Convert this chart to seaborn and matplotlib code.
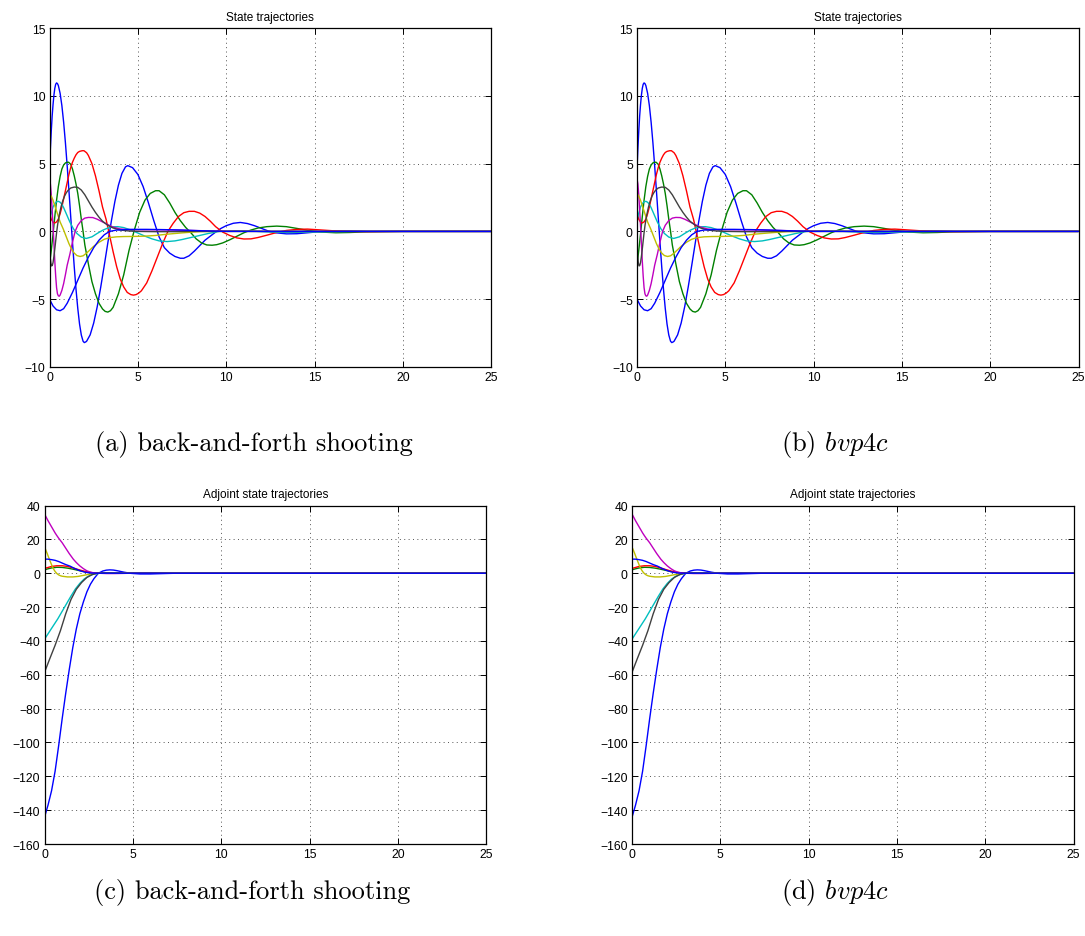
import numpy as np
import pandas as pd
import matplotlib
matplotlib.use("Agg")
import matplotlib.pyplot as plt
import seaborn as sns

# ---------------- data ----------------
# State trajectories (identical in panels a and b)
s1_t = [0, 0.05, 0.1, 0.15, 0.2, 0.25, 0.3, 0.35, 0.4, 0.45, 0.5, 0.6, 0.7, 0.8, 0.9, 1.0, 1.1, 1.2, 1.3, 1.4,
        1.5, 1.6, 1.7, 1.8, 1.9, 1.97, 2.05, 2.1, 2.3, 2.5, 2.7, 2.9, 3.1, 3.3, 3.5, 3.7, 3.9, 4.1, 4.3, 4.43,
        4.7, 5.0, 5.3, 5.6, 5.9, 6.2, 6.5, 6.8, 7.1, 7.4, 7.6, 7.9, 8.2, 8.5, 8.8, 9.1, 9.4, 9.7, 10.0, 10.4,
        10.8, 11.2, 11.6, 12.0, 12.4, 12.8, 13.4, 14.0, 14.6, 15.2, 16, 17, 18, 20, 25]
s1_v = [4.6, 6.1, 7.4, 8.5, 9.35, 10.05, 10.55, 10.85, 10.95, 10.9, 10.76, 10.19, 9.28, 8.05, 6.55, 4.84, 3.0,
        1.1, -0.8, -2.61, -4.27, -5.68, -6.83, -7.64, -8.1, -8.2, -8.15, -8.1, -7.63, -6.76, -5.56, -4.1, -2.5,
        -0.85, 0.76, 2.21, 3.41, 4.28, 4.76, 4.85, 4.7, 4.2, 3.3, 2.1, 0.8, -0.4, -1.2, -1.6, -1.85, -1.98,
        -1.98, -1.8, -1.45, -1.05, -0.65, -0.35, -0.05, 0.22, 0.42, 0.6, 0.66, 0.58, 0.42, 0.22, 0.02, -0.1,
        -0.18, -0.17, -0.1, -0.03, 0.02, 0.03, 0.0, 0.0, 0.0]
s2_t = [0, 0.1, 0.2, 0.3, 0.4, 0.5, 0.6, 0.7, 0.8, 0.9, 1.0, 1.08, 1.2, 1.3, 1.4, 1.5, 1.6, 1.7, 1.8, 1.9, 2.0,
        2.2, 2.4, 2.6, 2.8, 3.0, 3.15, 3.3, 3.45, 3.6, 3.9, 4.2, 4.5, 4.8, 5.1, 5.4, 5.7, 6.0, 6.2, 6.5, 6.8,
        7.1, 7.4, 7.7, 8.0, 8.3, 8.6, 8.9, 9.2, 9.46, 9.8, 10.2, 10.6, 11.0, 11.4, 11.8, 12.3, 12.86, 13.4,
        14.0, 14.6, 15.4, 16.2, 17, 18, 20, 25]
s2_v = [-2.5, -1.4, -0.2, 1.1, 2.3, 3.3, 4.05, 4.6, 4.9, 5.05, 5.1, 5.1, 4.95, 4.6, 4.1, 3.5, 2.8, 1.9, 0.9, 0.0,
        -1.0, -2.4, -3.7, -4.6, -5.3, -5.72, -5.9, -5.95, -5.85, -5.6, -4.6, -3.2, -1.4, 0.1, 1.4, 2.3, 2.8,
        3.0, 3.0, 2.7, 2.1, 1.4, 0.8, 0.3, -0.1, -0.55, -0.85, -1.0, -1.02, -0.98, -0.85, -0.62, -0.36, -0.1,
        0.1, 0.25, 0.35, 0.39, 0.35, 0.22, 0.08, -0.05, -0.1, -0.08, -0.03, 0.0, 0.0]
s3_t = [0, 0.1, 0.2, 0.3, 0.4, 0.5, 0.6, 0.7, 0.8, 0.9, 1.0, 1.1, 1.2, 1.3, 1.4, 1.5, 1.6, 1.7, 1.85, 1.95, 2.1,
        2.2, 2.4, 2.6, 2.8, 3.0, 3.2, 3.4, 3.6, 3.8, 4.0, 4.2, 4.4, 4.6, 4.75, 4.9, 5.05, 5.2, 5.5, 5.8, 6.1,
        6.4, 6.7, 7.0, 7.3, 7.6, 7.9, 8.2, 8.5, 8.8, 9.1, 9.4, 9.8, 10.2, 10.6, 11.0, 11.4, 11.8, 12.3, 12.8,
        13.4, 14.0, 14.6, 15.2, 16, 17, 18, 20, 25]
s3_v = [1.4, 0.9, 0.68, 0.62, 0.7, 0.9, 1.3, 1.8, 2.4, 3.0, 3.6, 4.2, 4.7, 5.1, 5.4, 5.65, 5.82, 5.9, 5.95, 5.95,
        5.8, 5.6, 5.0, 4.1, 3.0, 1.8, 0.9, -0.3, -1.5, -2.6, -3.5, -4.1, -4.5, -4.66, -4.7, -4.66, -4.55,
        -4.38, -3.8, -2.9, -1.9, -0.9, 0.0, 0.6, 1.1, 1.38, 1.48, 1.48, 1.35, 1.1, 0.75, 0.35, -0.05, -0.3,
        -0.48, -0.56, -0.55, -0.45, -0.28, -0.1, 0.07, 0.15, 0.17, 0.12, 0.05, 0.0, -0.02, 0.0, 0.0]
s4_t = [0, 0.05, 0.1, 0.2, 0.3, 0.4, 0.5, 0.6, 0.7, 0.8, 0.9, 1.0, 1.15, 1.35, 1.55, 1.8, 2.08, 2.4, 2.7, 3.0,
        3.3, 3.6, 3.87, 4.2, 4.6, 5.0, 5.4, 5.8, 6.2, 6.65, 7.1, 7.5, 8.0, 8.5, 9.0, 9.6, 10.5, 11.5, 12.5,
        13.5, 15, 17, 25]
s4_v = [0.8, 1.1, 1.35, 1.8, 2.05, 2.18, 2.22, 2.15, 2.0, 1.75, 1.45, 1.15, 0.7, 0.2, -0.15, -0.42, -0.52, -0.4,
        -0.15, 0.08, 0.25, 0.34, 0.35, 0.28, 0.1, -0.12, -0.35, -0.55, -0.7, -0.75, -0.7, -0.6, -0.45, -0.3,
        -0.15, 0.0, 0.05, 0.02, -0.05, -0.08, -0.05, 0.0, 0.0]
s5_t = [0, 0.05, 0.1, 0.15, 0.2, 0.25, 0.3, 0.35, 0.4, 0.45, 0.5, 0.55, 0.6, 0.7, 0.8, 0.9, 1.0, 1.15, 1.3, 1.45,
        1.6, 1.8, 2.0, 2.2, 2.45, 2.7, 3.0, 3.3, 3.6, 4.0, 4.5, 5.0, 6.0, 7.0, 8.0, 9.0, 10, 12, 25]
s5_v = [3.87, 3.5, 2.7, 1.6, 0.4, -0.9, -2.2, -3.3, -4.15, -4.6, -4.75, -4.78, -4.7, -4.35, -3.85, -3.2, -2.5,
        -1.7, -0.8, 0.0, 0.45, 0.8, 0.98, 1.03, 1.02, 0.9, 0.7, 0.5, 0.32, 0.18, 0.12, 0.12, 0.12, 0.1, 0.07,
        0.04, 0.02, 0.0, 0.0]
s6_t = [0, 0.05, 0.1, 0.2, 0.3, 0.45, 0.6, 0.78, 0.95, 1.1, 1.25, 1.4, 1.55, 1.73, 1.9, 2.1, 2.3, 2.5, 2.8, 3.1,
        3.4, 3.8, 4.2, 4.8, 5.4, 6.0, 6.7, 7.4, 8.0, 8.5, 9.5, 11, 25]
s6_v = [2.75, 2.7, 2.6, 2.3, 1.9, 1.3, 0.7, 0.17, -0.4, -0.9, -1.31, -1.6, -1.78, -1.85, -1.8, -1.6, -1.35, -1.1,
        -0.8, -0.58, -0.46, -0.4, -0.38, -0.37, -0.35, -0.3, -0.2, -0.12, -0.06, -0.02, 0.0, 0.0, 0.0]
s7_t = [0, 0.04, 0.08, 0.12, 0.16, 0.2, 0.25, 0.3, 0.35, 0.4, 0.46, 0.55, 0.65, 0.75, 0.85, 0.95, 1.05, 1.2, 1.4,
        1.6, 1.8, 2.0, 2.2, 2.4, 2.6, 2.8, 3.0, 3.3, 3.6, 4.0, 4.5, 5.0, 6, 7, 8, 10, 25]
s7_v = [-1.2, -1.9, -2.35, -2.55, -2.5, -2.3, -1.85, -1.3, -0.7, -0.1, 0.5, 1.2, 1.8, 2.25, 2.6, 2.85, 3.03, 3.2,
        3.27, 3.25, 3.05, 2.7, 2.25, 1.8, 1.4, 1.05, 0.75, 0.45, 0.25, 0.1, 0.03, 0.0, -0.02, -0.02, 0.0, 0.0,
        0.0]
s8_t = [0, 0.2, 0.4, 0.6, 0.8, 1.0, 1.3, 1.6, 1.9, 2.2, 2.5, 2.8, 3.1, 3.4, 3.8, 4.5, 5.5, 6.5, 7.5, 8.5, 10, 12, 25]
s8_v = [-5.0, -5.5, -5.78, -5.85, -5.7, -5.3, -4.5, -3.6, -2.7, -1.9, -1.2, -0.65, -0.25, 0.0, 0.1, 0.15, 0.15,
        0.13, 0.1, 0.05, 0.0, 0.0, 0.0]

# Adjoint state trajectories (identical in panels c and d)
a1_t = [0, 0.2, 0.4, 0.6, 0.8, 1.0, 1.2, 1.4, 1.6, 1.8, 2.0, 2.2, 2.4, 2.6, 2.8, 3.05, 3.3, 3.5, 3.7, 3.9, 4.1,
        4.5, 4.9, 5.4, 6.0, 6.8, 7.5, 9, 25]
a1_v = [-144.2, -137, -128.5, -117, -102, -86, -71, -57, -44, -33, -24, -17, -11, -6.5, -3.2, 0.0, 1.3, 1.8, 1.97,
        1.85, 1.5, 0.6, -0.1, -0.45, -0.45, -0.2, 0.0, 0.0, 0.0]
a2_t = [0, 0.2, 0.4, 0.7, 1.0, 1.3, 1.6, 1.9, 2.2, 2.5, 2.8, 3.2, 4, 25]
a2_v = [2.0, 2.6, 3.1, 3.5, 3.4, 3.0, 2.4, 1.7, 1.0, 0.45, 0.15, 0.0, 0.0, 0.0]
a3_t = [0, 0.2, 0.4, 0.7, 1.0, 1.3, 1.6, 1.9, 2.2, 2.5, 2.8, 3.2, 4, 25]
a3_v = [2.8, 3.4, 4.0, 4.4, 4.4, 4.0, 3.2, 2.2, 1.3, 0.6, 0.2, 0.0, 0.0, 0.0]
a4_t = [0, 0.25, 0.5, 0.75, 1.0, 1.25, 1.5, 1.75, 2.0, 2.25, 2.5, 2.8, 3.1, 3.5, 4, 5, 25]
a4_v = [-39, -35, -31, -27, -22.5, -18, -13.5, -9.3, -6, -3.4, -1.7, -0.5, 0.0, 0.2, 0.2, 0.0, 0.0]
a5_t = [0, 0.1, 0.2, 0.3, 0.4, 0.5, 0.6, 0.7, 0.8, 1.0, 1.2, 1.4, 1.63, 1.8, 2.0, 2.2, 2.4, 2.6, 2.8, 3.0, 3.5,
        4, 5, 25]
a5_v = [35, 33, 31, 29.2, 27.4, 25.6, 23.8, 22.2, 20.7, 18, 14.8, 11.6, 8.3, 6.3, 4.3, 2.7, 1.4, 0.6, 0.15, 0.0,
        -0.2, -0.2, 0.0, 0.0]
a6_t = [0, 0.05, 0.1, 0.15, 0.2, 0.3, 0.4, 0.5, 0.6, 0.7, 0.8, 0.9, 1.0, 1.3, 1.6, 1.9, 2.2, 2.5, 2.8, 3.2, 4, 25]
a6_v = [15.3, 14.3, 13, 11.7, 10.3, 7.6, 5.0, 2.7, 1.0, -0.2, -1.0, -1.5, -1.8, -2.2, -2.2, -1.9, -1.3, -0.7,
        -0.3, 0.0, 0.0, 0.0]
a7_t = [0, 0.3, 0.6, 0.9, 1.2, 1.5, 1.8, 2.1, 2.4, 2.7, 3.0, 3.4, 4, 5, 25]
a7_v = [-58.6, -50.5, -42.6, -34, -24, -15.5, -9.5, -5.5, -2.5, -0.8, 0.0, 0.2, 0.1, 0.0, 0.0]
a8_t = [0, 0.2, 0.4, 0.6, 0.8, 1.0, 1.2, 1.44, 1.7, 2.0, 2.3, 2.6, 3.0, 4, 25]
a8_v = [8.3, 8.3, 8.0, 7.6, 6.9, 6.0, 5.1, 4.2, 2.8, 1.5, 0.6, 0.1, 0.0, 0.0, 0.0]

state_ticks = [-10, -5, 0, 5, 10, 15]
adjoint_ticks = [-160, -140, -120, -100, -80, -60, -40, -20, 0, 20, 40]
time_ticks = [0, 5, 10, 15, 20, 25]

titles = ["State trajectories", "State trajectories",
          "Adjoint state trajectories", "Adjoint state trajectories"]
captions = ["(a) back-and-forth shooting", r"(b) $bvp4c$",
            "(c) back-and-forth shooting", r"(d) $bvp4c$"]

# MATLAB classic color order (8th line wraps back to blue)
curve_names = ["x1", "x2", "x3", "x4", "x5", "x6", "x7", "x8"]
matlab_colors = ["#0000ff", "#008000", "#ff0000", "#00bfbf", "#bf00bf", "#bfbf00", "#404040", "#0000ff"]


def build(ts, vs):
    frames = []
    for name, t, v in zip(curve_names, ts, vs):
        frames.append(pd.DataFrame({"t": t, "v": v, "curve": name}))
    return pd.concat(frames, ignore_index=True)


state_df = build([s1_t, s2_t, s3_t, s4_t, s5_t, s6_t, s7_t, s8_t],
                 [s1_v, s2_v, s3_v, s4_v, s5_v, s6_v, s7_v, s8_v])
adj_df = build([a1_t, a2_t, a3_t, a4_t, a5_t, a6_t, a7_t, a8_t],
               [a1_v, a2_v, a3_v, a4_v, a5_v, a6_v, a7_v, a8_v])

# ---------------- styling ----------------
sns.set_theme(style="white")
plt.rcParams["font.family"] = ["Liberation Sans", "DejaVu Sans"]
plt.rcParams["mathtext.fontset"] = "cm"
plt.rcParams["axes.unicode_minus"] = True
plt.rcParams["text.color"] = "black"

W, H = 1085, 937
fig = plt.figure(figsize=(W / 100, H / 100), dpi=100)


def ax_rect(x0, x1, ytop, ybot):
    return [x0 / W, 1 - ybot / H, (x1 - x0) / W, (ybot - ytop) / H]


rects = [ax_rect(49.5, 491.3, 29, 368),
         ax_rect(637, 1078.5, 29, 368),
         ax_rect(44.5, 486.2, 506.5, 845),
         ax_rect(632, 1073.5, 506.5, 845)]

palette = dict(zip(curve_names, matlab_colors))

for i, rect in enumerate(rects):
    ax = fig.add_axes(rect)
    df = state_df if i < 2 else adj_df
    sns.lineplot(data=df, x="t", y="v", hue="curve", hue_order=curve_names,
                 palette=palette, estimator=None, sort=False, legend=False,
                 linewidth=1.0, ax=ax)
    ax.set_xlim(0, 25)
    ax.set_xticks(time_ticks)
    if i < 2:
        ax.set_ylim(-10, 15)
        ax.set_yticks(state_ticks)
    else:
        ax.set_ylim(-160, 40)
        ax.set_yticks(adjoint_ticks)
    ax.set_xlabel("")
    ax.set_ylabel("")
    ax.set_title(titles[i], fontsize=8.5, pad=6, color="black")
    ax.grid(True, color="#555555", linestyle=(0, (1, 3.5)), linewidth=0.7)
    ax.set_axisbelow(True)
    for sp in ax.spines.values():
        sp.set_visible(True)
        sp.set_color("black")
        sp.set_linewidth(0.9)
    ax.tick_params(direction="in", length=4, width=0.7, labelsize=8.7,
                   top=True, right=True, bottom=True, left=True, pad=3, colors="black")

cap_font = {"family": "cmr10", "size": 19, "color": "black"}
fig.text(254 / W, 1 - 445 / H, captions[0], ha="center", va="center", fontdict=cap_font)
fig.text(835 / W, 1 - 445 / H, captions[1], ha="center", va="center", fontdict=cap_font)
fig.text(252 / W, 1 - 893 / H, captions[2], ha="center", va="center", fontdict=cap_font)
fig.text(835 / W, 1 - 893 / H, captions[3], ha="center", va="center", fontdict=cap_font)

fig.savefig("out.png", dpi=100)
